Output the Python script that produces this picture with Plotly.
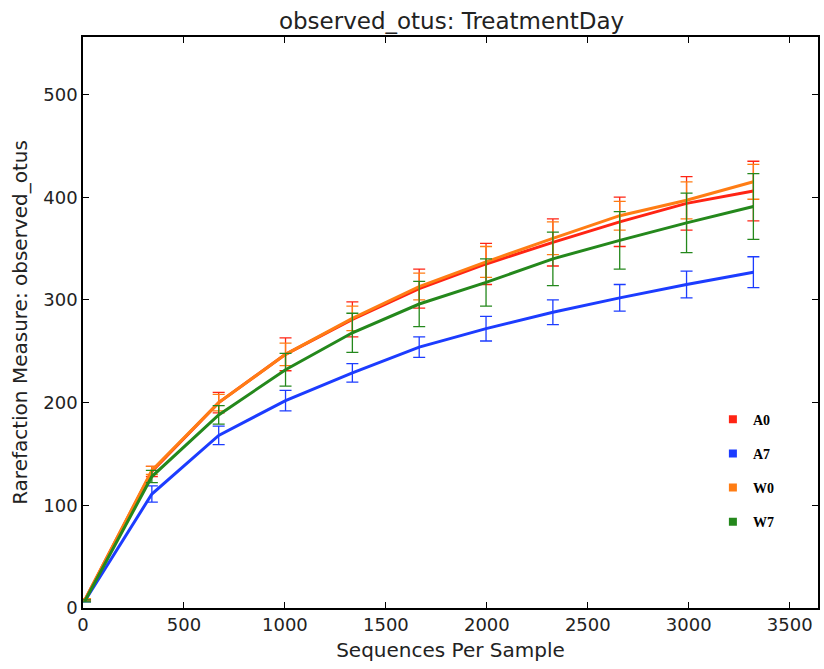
import plotly.graph_objects as go

# Rarefaction depths (sequences per sample)
depths = [10, 341, 672, 1003, 1334, 1665, 1996, 2327, 2658, 2989, 3320]

# Mean observed OTUs and error per group
groups = ["A0", "A7", "W0", "W7"]
a0_mean = [8, 133, 200, 247, 281, 311, 335, 356, 376, 394, 406]
a0_err = [1, 5, 10, 16, 17, 19, 20, 23, 24, 26, 29]
a7_mean = [7, 111, 168, 202, 229, 254, 272, 288, 302, 315, 327]
a7_err = [1, 8, 9, 10, 9, 10, 12, 12, 13, 13, 15]
w0_mean = [8, 134, 200, 247, 282, 313, 337, 360, 382, 397, 415]
w0_err = [1, 4, 8, 11, 12, 13, 15, 16, 14, 18, 17]
w7_mean = [7, 128, 188, 232, 268, 296, 317, 340, 358, 375, 391]
w7_err = [1, 6, 9, 16, 19, 22, 23, 26, 28, 29, 32]

means = [a0_mean, a7_mean, w0_mean, w7_mean]
errs = [a0_err, a7_err, w0_err, w7_err]
colors = ["#ff2414", "#1c3cff", "#ff7d14", "#24881c"]

x_ticks = [0, 500, 1000, 1500, 2000, 2500, 3000, 3500]
y_ticks = [0, 100, 200, 300, 400, 500]

fig = go.Figure()

for name, m, e, c in zip(groups, means, errs, colors):
    fig.add_trace(go.Scatter(
        x=depths, y=m, mode="lines", name=name, showlegend=False,
        line=dict(color=c, width=3),
        error_y=dict(type="data", array=e, visible=True, color=c,
                     thickness=1.3, width=6),
    ))

# Square-marker legend entries
for name, c in zip(groups, colors):
    fig.add_trace(go.Scatter(
        x=[None], y=[None], mode="markers", name=name, legendgroup=name,
        marker=dict(symbol="square", size=8, color=c),
    ))

axis_common = dict(
    showline=True, linecolor="black", linewidth=1.5, mirror="ticks",
    ticks="inside", ticklen=6, tickwidth=1.2, tickcolor="black",
    showgrid=False, zeroline=False,
    tickfont=dict(family="DejaVu Sans", size=18, color="#222222"),
)

fig.update_layout(
    width=824, height=669,
    margin=dict(l=83, r=4, t=37, b=61),
    paper_bgcolor="white", plot_bgcolor="white",
    title=dict(text="observed_otus: TreatmentDay", x=0.548, xanchor="center",
               y=0.968, yanchor="middle",
               font=dict(family="DejaVu Sans", size=23, color="#222222")),
    xaxis=dict(range=[0, 3640], tickvals=x_ticks,
               title=dict(text="Sequences Per Sample", standoff=9,
                          font=dict(family="DejaVu Sans", size=20, color="#222222")),
               **axis_common),
    yaxis=dict(range=[0, 556], tickvals=y_ticks,
               title=dict(text="Rarefaction Measure: observed_otus", standoff=10,
                          font=dict(family="DejaVu Sans", size=20, color="#222222")),
               **axis_common),
    legend=dict(x=0.857, y=0.358, xanchor="left", yanchor="top",
                bgcolor="rgba(0,0,0,0)", traceorder="grouped",
                tracegroupgap=13,
                font=dict(family="Liberation Serif", size=14, color="black",
                          weight="bold")),
)

fig.write_html("out.html")
